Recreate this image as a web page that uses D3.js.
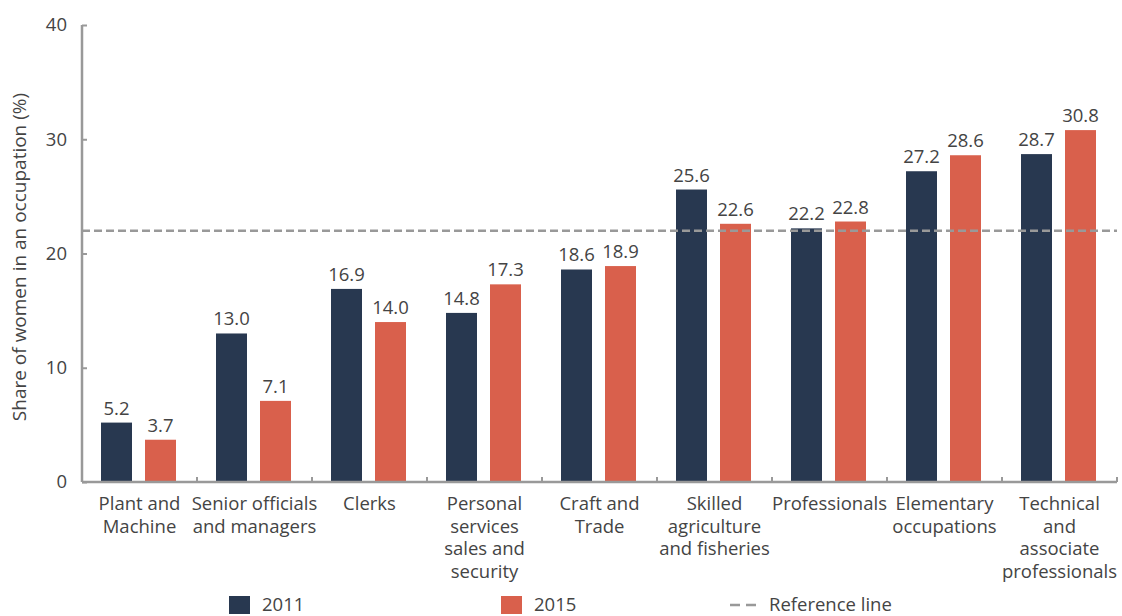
<!DOCTYPE html>
<html>
<head>
<meta charset="utf-8">
<script src="https://cdn.jsdelivr.net/npm/d3@7"></script>
<style>
  body { margin: 0; background: #fff; }
  svg { display: block; font-family: "Open Sans", sans-serif; }
</style>
</head>
<body>
<svg id="chart" width="1122" height="616"></svg>
<script>
const categories = [
  ["Plant and", "Machine"],
  ["Senior officials", "and managers"],
  ["Clerks"],
  ["Personal", "services", "sales and", "security"],
  ["Craft and", "Trade"],
  ["Skilled", "agriculture", "and fisheries"],
  ["Professionals"],
  ["Elementary", "occupations"],
  ["Technical", "and", "associate", "professionals"]
];
const seriesNames = ["2011", "2015"];
const values2011 = [5.2, 13.0, 16.9, 14.8, 18.6, 25.6, 22.2, 27.2, 28.7];
const values2015 = [3.7, 7.1, 14.0, 17.3, 18.9, 22.6, 22.8, 28.6, 30.8];
const referenceValue = 22;
const yTicks = [0, 10, 20, 30, 40];
const colors = ["#283850", "#D9604C"];

const svg = d3.select("#chart");
const pLeft = 82, pRight = 1117, pTop = 25, pBottom = 482;
const textColor = "#444";
const axisColor = "#999";
const fs = 18.5;

const x = d3.scaleBand().domain(d3.range(categories.length)).range([pLeft, pRight]).padding(0);
const xInner = d3.scaleBand().domain([0, 1]).range([19, 94]).paddingInner(13 / 44).paddingOuter(0);
const y = d3.scaleLinear().domain([0, 40]).range([pBottom, pTop]);

// Bars
const series = [values2011, values2015];
series.forEach((vals, si) => {
  const g = svg.append("g");
  g.selectAll("rect").data(vals).join("rect")
    .attr("x", (d, i) => x(i) + xInner(si))
    .attr("y", d => y(d))
    .attr("width", xInner.bandwidth())
    .attr("height", d => y(0) - y(d))
    .attr("fill", colors[si]);
  g.selectAll("text").data(vals).join("text")
    .attr("x", (d, i) => x(i) + xInner(si) + xInner.bandwidth() / 2)
    .attr("y", d => y(d) - 8)
    .attr("text-anchor", "middle")
    .attr("font-size", fs)
    .attr("fill", textColor)
    .text(d => d.toFixed(1));
});

// Reference line
svg.append("line")
  .attr("x1", pLeft).attr("x2", pRight)
  .attr("y1", y(referenceValue)).attr("y2", y(referenceValue))
  .attr("stroke", axisColor).attr("stroke-width", 2.5)
  .attr("stroke-dasharray", "8,4");

// Y axis
const yAxis = svg.append("g").attr("transform", `translate(${pLeft},0)`)
  .call(d3.axisRight(y).tickValues(yTicks).tickSize(5).tickFormat(""));
yAxis.select(".domain").attr("stroke", axisColor).attr("stroke-width", 2.5).attr("d", `M0,${pTop}V${pBottom}`);
yAxis.selectAll(".tick line").attr("stroke", axisColor).attr("stroke-width", 2);
svg.append("g").selectAll("text").data(yTicks).join("text")
  .attr("x", pLeft - 15).attr("y", d => y(d))
  .attr("dy", "0.35em")
  .attr("text-anchor", "end")
  .attr("font-size", fs)
  .attr("fill", textColor)
  .text(d => d);

// X axis
const xBoundaries = d3.range(categories.length + 1).map(i => pLeft + i * x.step());
svg.append("line").attr("x1", pLeft).attr("x2", pRight).attr("y1", pBottom).attr("y2", pBottom)
  .attr("stroke", axisColor).attr("stroke-width", 2.5);
svg.append("g").selectAll("line").data(xBoundaries.slice(1)).join("line")
  .attr("x1", d => d).attr("x2", d => d)
  .attr("y1", pBottom).attr("y2", pBottom - 5)
  .attr("stroke", axisColor).attr("stroke-width", 2);

// Category labels
const cl = svg.append("g").selectAll("text").data(categories).join("text")
  .attr("x", (d, i) => x(i) + x.bandwidth() / 2)
  .attr("y", 510)
  .attr("text-anchor", "middle")
  .attr("font-size", fs)
  .attr("fill", textColor);
cl.selectAll("tspan").data(d => d).join("tspan")
  .attr("x", function() { return this.parentNode.getAttribute("x"); })
  .attr("dy", (d, i) => i === 0 ? 0 : 22.7)
  .text(d => d);

// Y axis title
svg.append("text")
  .attr("transform", `translate(26,257) rotate(-90)`)
  .attr("text-anchor", "middle")
  .attr("font-size", 19)
  .attr("fill", textColor)
  .text("Share of women in an occupation (%)");

// Legend
const legend = svg.append("g");
const legendX = [229, 501];
seriesNames.forEach((name, i) => {
  legend.append("rect").attr("x", legendX[i]).attr("y", 596).attr("width", 21).attr("height", 18).attr("fill", colors[i]);
  legend.append("text").attr("x", legendX[i] + 33).attr("y", 610.5).attr("font-size", fs).attr("fill", textColor).text(name);
});
legend.append("line").attr("x1", 730).attr("x2", 756).attr("y1", 605).attr("y2", 605)
  .attr("stroke", axisColor).attr("stroke-width", 2.5).attr("stroke-dasharray", "10,6");
legend.append("text").attr("x", 769).attr("y", 610.5).attr("font-size", fs).attr("fill", textColor).text("Reference line");
</script>
</body>
</html>
